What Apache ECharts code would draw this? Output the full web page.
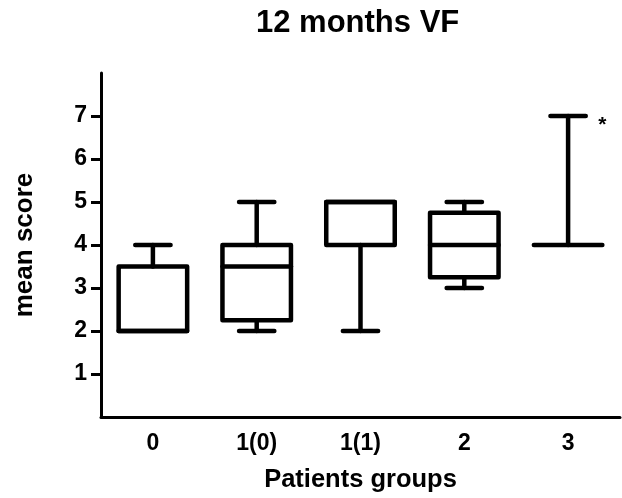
<!DOCTYPE html>
<html>
<head>
<meta charset="utf-8">
<script src="https://cdn.jsdelivr.net/npm/echarts@6/dist/echarts.min.js"></script>
<style>
  html, body { margin: 0; padding: 0; background: #fff; }
  #chart { width: 622px; height: 498px; }
</style>
</head>
<body>
<div id="chart"></div>
<script>
const groups = ['0', '1(0)', '1(1)', '2', '3'];
const minVals = [2, 2, 2, 3, 4];
const q1Vals = [2, 2.25, 4, 3.25, 4];
const medianVals = [2, 3.5, 5, 4, 4];
const q3Vals = [3.5, 4, 5, 4.75, 4];
const maxVals = [4, 5, 5, 5, 7];
const marks = ['', '', '', '', '*'];
const yTicks = [1, 2, 3, 4, 5, 6, 7];

const font = 'Liberation Sans, Arial, sans-serif';

const boxData = groups.map(function (g, i) {
  return [i, minVals[i], q1Vals[i], medianVals[i], q3Vals[i], maxVals[i]];
});

function renderItem(params, api) {
  const i = api.value(0);
  const lo = api.value(1), q1 = api.value(2), med = api.value(3),
        q3 = api.value(4), hi = api.value(5);
  const x = api.coord([i, 0])[0];
  const band = api.size([1, 0])[0];
  const half = band * 0.33;
  const capHalf = band * 0.17;
  const y = function (v) { return api.coord([i, v])[1]; };
  const style = { stroke: '#000', lineWidth: 4.5, fill: null, lineCap: 'round', lineJoin: 'round' };
  const kids = [];
  function line(x1, y1, x2, y2) {
    kids.push({ type: 'line', shape: { x1: x1, y1: y1, x2: x2, y2: y2 }, style: style });
  }
  if (hi > q3) {
    line(x, y(q3), x, y(hi));
    line(x - capHalf, y(hi), x + capHalf, y(hi));
  }
  if (lo < q1) {
    line(x, y(q1), x, y(lo));
    line(x - capHalf, y(lo), x + capHalf, y(lo));
  }
  if (q3 > q1) {
    kids.push({ type: 'rect', shape: { x: x - half, y: y(q3), width: half * 2, height: y(q1) - y(q3) }, style: style });
  }
  line(x - half, y(med), x + half, y(med));
  if (marks[i]) {
    kids.push({
      type: 'text',
      style: {
        text: marks[i], x: x + half + 0, y: y(hi) + 9,
        fill: '#000', font: 'bold 21px ' + font,
        align: 'center', verticalAlign: 'middle'
      }
    });
  }
  return { type: 'group', children: kids };
}

const chart = echarts.init(document.getElementById('chart'));
chart.setOption({
  animation: false,
  title: {
    text: '12 months VF',
    left: 256,
    top: 8,
    padding: 0,
    textStyle: { fontFamily: font, fontWeight: 'bold', fontSize: 31, color: '#000' }
  },
  grid: { left: 101, right: 2, top: 73, bottom: 80 },
  xAxis: {
    type: 'category',
    data: groups,
    name: 'Patients groups',
    nameLocation: 'middle',
    nameGap: 50,
    nameTextStyle: { fontFamily: font, fontWeight: 'bold', fontSize: 25.5, color: '#000' },
    axisLine: { lineStyle: { color: '#000', width: 3 } },
    axisTick: { alignWithLabel: true, length: 9, lineStyle: { color: '#000', width: 3 } },
    axisLabel: { margin: 15, fontFamily: font, fontWeight: 'bold', fontSize: 23, color: '#000' },
    splitLine: { show: false }
  },
  yAxis: {
    type: 'value',
    min: 0,
    max: 8,
    interval: 1,
    name: 'mean score',
    nameLocation: 'middle',
    nameGap: 63,
    nameTextStyle: { fontFamily: font, fontWeight: 'bold', fontSize: 26, color: '#000' },
    axisLine: { show: true, lineStyle: { color: '#000', width: 3 } },
    axisTick: { show: true, customValues: yTicks, length: 10, lineStyle: { color: '#000', width: 3 } },
    axisLabel: { customValues: yTicks, margin: 14, fontFamily: font, fontWeight: 'bold', fontSize: 23, color: '#000' },
    splitLine: { show: false }
  },
  series: [{
    type: 'custom',
    name: 'VF score',
    renderItem: renderItem,
    encode: { x: 0, y: [1, 2, 3, 4, 5] },
    data: boxData
  }]
});
</script>
</body>
</html>
